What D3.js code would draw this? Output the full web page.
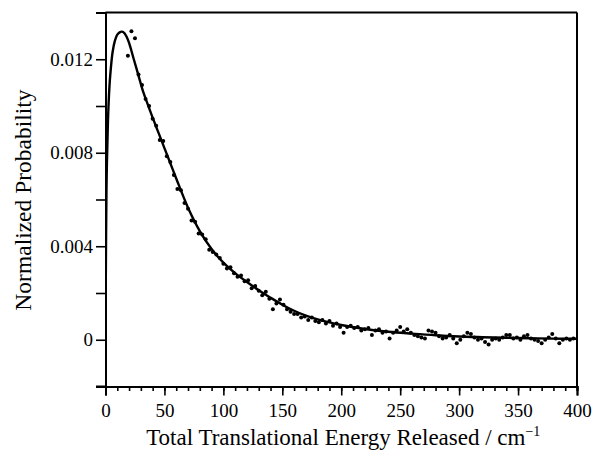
<!DOCTYPE html>
<html><head><meta charset="utf-8">
<script src="https://cdn.jsdelivr.net/npm/d3@7"></script>
<style>body{margin:0;background:#fff}svg{display:block}text{font-family:"Liberation Serif","Times New Roman",serif;fill:#000}</style>
</head><body><svg id="c" width="592" height="450"></svg>
<script>
// Fitted curve
const curveE = [0,0.5,1,2,3,4,6,8,10,12,14,16,18,20,24,28,32,36,40,45,50,55,60,70,80,90,100,110,120,130,140,150,160,170,180,190,200,220,240,260,280,300,320,340,360,380,400];
const curveP = [0,4.5,7.0,9.2,10.5,11.3,12.3,12.8,13.05,13.15,13.18,13.12,12.95,12.7,12.0,11.3,10.6,10.05,9.5,8.85,8.2,7.55,6.9,5.65,4.65,3.88,3.3,2.85,2.47,2.12,1.8,1.5,1.24,1.03,0.87,0.74,0.63,0.46,0.34,0.26,0.19,0.14,0.11,0.085,0.065,0.05,0.04];
// Measured points (x in cm^-1, y in units of 1e-3)
const dataE = [19,22,25,28,31,34,37,40,43,46,49,52,55,58,61,64,67,70,73,76,79,82,85,88,91,94,97,100,103,106,109,112,115,118,121,124,127,130,133,136,139,142,145,148,151,154,157,160,163,166,169,172,175,178,181,184,187,190,193,196,199,202,205,208,211,214,217,220,223,226,229,232,235,238,241,244,247,250,253,256,259,262,265,268,271,274,277,280,283,286,289,292,295,298,301,304,307,310,313,316,319,322,325,328,331,334,337,340,343,346,349,352,355,358,361,364,367,370,373,376,379,382,385,388,391,394,397];
const dataP = [12.15,13.2,12.9,11.35,10.9,10.3,10.0,9.45,9.15,8.55,8.5,7.85,7.6,7.05,6.45,6.4,5.85,5.6,5.1,5.05,4.55,4.5,4.3,3.85,3.75,3.65,3.5,3.25,3.05,3.1,2.85,2.7,2.75,2.5,2.55,2.2,2.3,2.1,1.9,2.05,1.75,1.3,1.55,1.72,1.5,1.3,1.2,1.1,1.1,0.95,1.0,0.85,0.95,0.8,0.75,0.85,0.7,0.8,0.6,0.7,0.55,0.3,0.55,0.6,0.5,0.55,0.4,0.45,0.5,0.2,0.4,0.45,0.3,0.35,0.05,0.3,0.4,0.55,0.35,0.45,0.3,0.2,0.15,0.1,0.05,0.4,0.35,0.3,0.15,0.05,0.1,0.2,0.05,-0.15,0.0,0.15,0.3,0.25,0.1,0.0,0.05,-0.1,-0.2,0.0,0.05,0.0,0.1,0.2,0.2,0.05,0.1,0.0,0.15,0.2,0.05,0.0,-0.05,-0.15,0.0,0.1,0.25,0.05,-0.15,0.0,0.05,0.0,0.05];
const xTicks = [0,50,100,150,200,250,300,350,400];
const yTickLabels = ["0","0.004","0.008","0.012"];
const yTickVals = [0,0.004,0.008,0.012];

const svg = d3.select("#c");
const x = d3.scaleLinear().domain([0,400]).range([105.5,577]);
const y = d3.scaleLinear().domain([-0.002,0.014]).range([386.5,12.5]);

// frame
const g = svg.append("g");
g.append("line").attr("x1",x(0)).attr("x2",x(400)).attr("y1",y(0.014)).attr("y2",y(0.014)).attr("stroke","#000").attr("stroke-width",2);
g.append("line").attr("x1",x(400)).attr("x2",x(400)).attr("y1",y(0.014)).attr("y2",y(-0.002)).attr("stroke","#000").attr("stroke-width",2);

// x axis
const xAxis = d3.axisBottom(x).tickValues(d3.range(0,401,10)).tickSize(4.5).tickFormat("");
const gx = svg.append("g").attr("transform",`translate(0,${y(-0.002)})`).call(xAxis);
const gx2 = svg.append("g").attr("transform",`translate(0,${y(-0.002)})`)
  .call(d3.axisBottom(x).tickValues(xTicks).tickSize(9).tickPadding(4).tickFormat(d3.format("d")));
[gx,gx2].forEach(a=>{a.select(".domain").attr("stroke-width",2);a.selectAll(".tick line").attr("stroke-width",1.6);});
gx2.selectAll("text").style("font-size","19px").style("font-family","Liberation Serif").attr("dy","0.9em");

// y axis
const gy = svg.append("g").attr("transform",`translate(${x(0)},0)`)
  .call(d3.axisLeft(y).tickValues(d3.range(-0.002,0.0141,0.002)).tickSize(9.5).tickPadding(3)
    .tickFormat(d=>{const i=yTickVals.findIndex(v=>Math.abs(v-d)<1e-9);return i>=0?yTickLabels[i]:"";}));
gy.select(".domain").attr("stroke-width",2);
gy.selectAll(".tick line").attr("stroke-width",1.6);
gy.selectAll("text").style("font-size","19px").style("font-family","Liberation Serif");
g.append("line").attr("x1",x(0)-9.5).attr("x2",x(0)).attr("y1",y(-0.002)).attr("y2",y(-0.002)).attr("stroke","#000").attr("stroke-width",2);

// curve
svg.append("clipPath").attr("id","cp").append("rect").attr("x",x(0)).attr("y",y(0.014)).attr("width",x(400)-x(0)).attr("height",y(-0.002)-y(0.014));
svg.append("path").datum(curveE.map((e,i)=>[e,curveP[i]/1000]))
  .attr("d",d3.line().x(d=>x(d[0])).y(d=>y(d[1])).curve(d3.curveCatmullRom.alpha(0.5)))
  .attr("fill","none").attr("stroke","#000").attr("stroke-width",2.4).attr("clip-path","url(#cp)");

// points
svg.append("g").selectAll("circle").data(dataE.map((e,i)=>[e,dataP[i]/1000])).join("circle")
  .attr("cx",d=>x(d[0])).attr("cy",d=>y(d[1])).attr("r",2).attr("fill","#000");

// titles
const xt = svg.append("text").attr("x",(x(0)+x(400))/2 + 2).attr("y",445).attr("text-anchor","middle").style("font-size","23px");
xt.append("tspan").text("Total Translational Energy Released / cm");
xt.append("tspan").text("−1").attr("dy","-9").style("font-size","14px");
svg.append("text").attr("transform","translate(31,200) rotate(-90)").attr("text-anchor","middle").style("font-size","23.5px").text("Normalized Probability");
</script></body></html>
